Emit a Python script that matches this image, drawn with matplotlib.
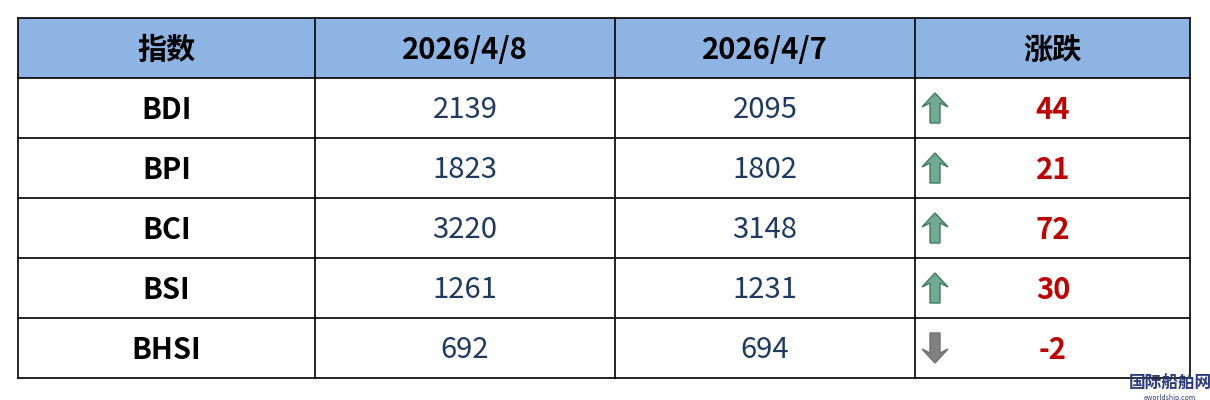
import matplotlib
matplotlib.use("Agg")
import matplotlib.pyplot as plt
from matplotlib.patches import Rectangle, Polygon

plt.rcParams['font.family'] = ['Noto Sans CJK SC', 'DejaVu Sans']

headers = ["指数", "2026/4/8", "2026/4/7", "涨跌"]
indices = ["BDI", "BPI", "BCI", "BSI", "BHSI"]
today = [2139, 1823, 3220, 1261, 692]
prev = [2095, 1802, 3148, 1231, 694]
change = [44, 21, 72, 30, -2]

fig = plt.figure(figsize=(12.1, 4.0), dpi=100)
ax = fig.add_axes([0, 0, 1, 1])
ax.set_xlim(0, 1210)
ax.set_ylim(400, 0)
ax.axis('off')

cols = [18, 315, 615, 915, 1190]
top, rh = 18, 60
nrows = len(indices) + 1
ax.add_patch(Rectangle((cols[0], top), cols[-1]-cols[0], rh, facecolor='#8db4e2', edgecolor='none'))
for i in range(nrows + 1):
    ax.plot([cols[0], cols[-1]], [top + i*rh]*2, color='black', lw=1.2)
for c in cols:
    ax.plot([c, c], [top, top + nrows*rh], color='black', lw=1.2)

for j, h in enumerate(headers):
    ax.text((cols[j]+cols[j+1])/2, top + rh/2 + 2, h, ha='center', va='center', fontsize=21, fontweight='bold', color='black')

def arrow(x0, yc, up, fc, ec):
    w, hgt = 26, 30
    hw = 13; sw = 5; head = 14
    if up:
        y0 = yc - hgt/2
        pts = [(x0+hw, y0), (x0+w, y0+head), (x0+hw+sw, y0+head-4), (x0+hw+sw, y0+hgt),
               (x0+hw-sw, y0+hgt), (x0+hw-sw, y0+head-4), (x0, y0+head)]
    else:
        y1 = yc + hgt/2
        pts = [(x0+hw, y1), (x0+w, y1-head), (x0+hw+sw, y1-head+4), (x0+hw+sw, y1-hgt),
               (x0+hw-sw, y1-hgt), (x0+hw-sw, y1-head+4), (x0, y1-head)]
    ax.add_patch(Polygon(pts, closed=True, facecolor=fc, edgecolor=ec, lw=1))

for i in range(len(indices)):
    yc = top + (i+1)*rh + rh/2
    ty = yc + 2
    ax.text((cols[0]+cols[1])/2, ty, indices[i], ha='center', va='center', fontsize=21, fontweight='bold', color='black')
    ax.text((cols[1]+cols[2])/2, ty, str(today[i]), ha='center', va='center', fontsize=21, color='#1f3a60')
    ax.text((cols[2]+cols[3])/2, ty, str(prev[i]), ha='center', va='center', fontsize=21, color='#1f3a60')
    if change[i] >= 0:
        arrow(922, yc, True, '#72aa96', '#3f7a62')
    else:
        arrow(922, yc, False, '#808080', '#707070')
    ax.text(1053, ty, str(change[i]), ha='center', va='center', fontsize=21, fontweight='bold', color='#c00000')

ax.text(1170, 384, "国际船舶网", ha='center', va='center', fontsize=12, fontweight='bold', color='#2a3a7a')
ax.text(1170, 397.5, "eworldship.com", ha='center', va='center', fontsize=5, color='#2a3a7a')

fig.savefig("out.png", dpi=100)
